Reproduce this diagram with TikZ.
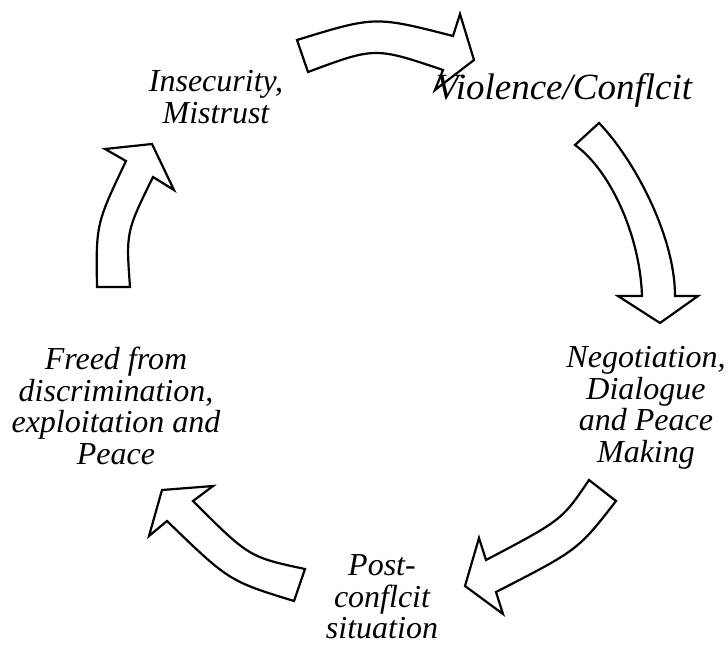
\documentclass[tikz,border=0pt]{standalone}
\usepackage{fontspec}
\setmainfont{Liberation Serif}
\usepackage{tikz}
\usetikzlibrary{positioning}

\begin{document}
\begin{tikzpicture}[x=1pt,y=-1pt,
                blockarrow/.style={draw=black,fill=white,line width=2.2pt,line join=miter},
                stage/.style={align=center,inner sep=0pt,font=\fontsize{32}{31.5}\selectfont\itshape}]
                \useasboundingbox (0,0) rectangle (728,646);
                \draw[blockarrow] (297,40) .. controls (375,16) .. (453,36) -- (460,14) -- (474,60)
                    -- (435,90) -- (443,70) .. controls (375,47) .. (308,72) -- cycle;
                \draw[blockarrow] (575,145) -- (599,123) .. controls (633,158) and (675,235) .. (675,296) -- (698,296)
                    -- (660,323) -- (618,296) -- (642,296) .. controls (640,235) and (610,170) .. cycle;
                \draw[blockarrow] (589,480) .. controls (562,520) .. (486,560) -- (479,538) -- (465,586)
                    -- (503,614) -- (496,592) .. controls (578,550) .. (616,501) -- cycle;
                \draw[blockarrow] (305,569) .. controls (249,557) .. (193,501) -- (213,486) -- (162,490)
                    -- (149,536) -- (167,521) .. controls (229,581) .. (294,601) -- cycle;
                \draw[blockarrow] (97,287) .. controls (96,224) .. (126,161) -- (105,149) -- (152,144)
                    -- (174,190) -- (153,177) .. controls (126,232) .. (130,287) -- cycle;
                \node[stage] (insecurity) at (216,97) {Insecurity,\\Mistrust};
                \node[stage,font=\fontsize{37}{37}\selectfont\itshape] (violence) at (564,90) {Violence/Conflcit};
                \node[stage] (negotiation) at (646,408) {Negotiation,\\Dialogue\\and Peace\\Making};
                \node[stage] (postconflict) at (382,597) {Post-\\conflcit\\situation};
                \node[stage] (freed) at (116,406) {Freed from\\discrimination,\\exploitation and\\Peace};
            \end{tikzpicture}
\end{document}
